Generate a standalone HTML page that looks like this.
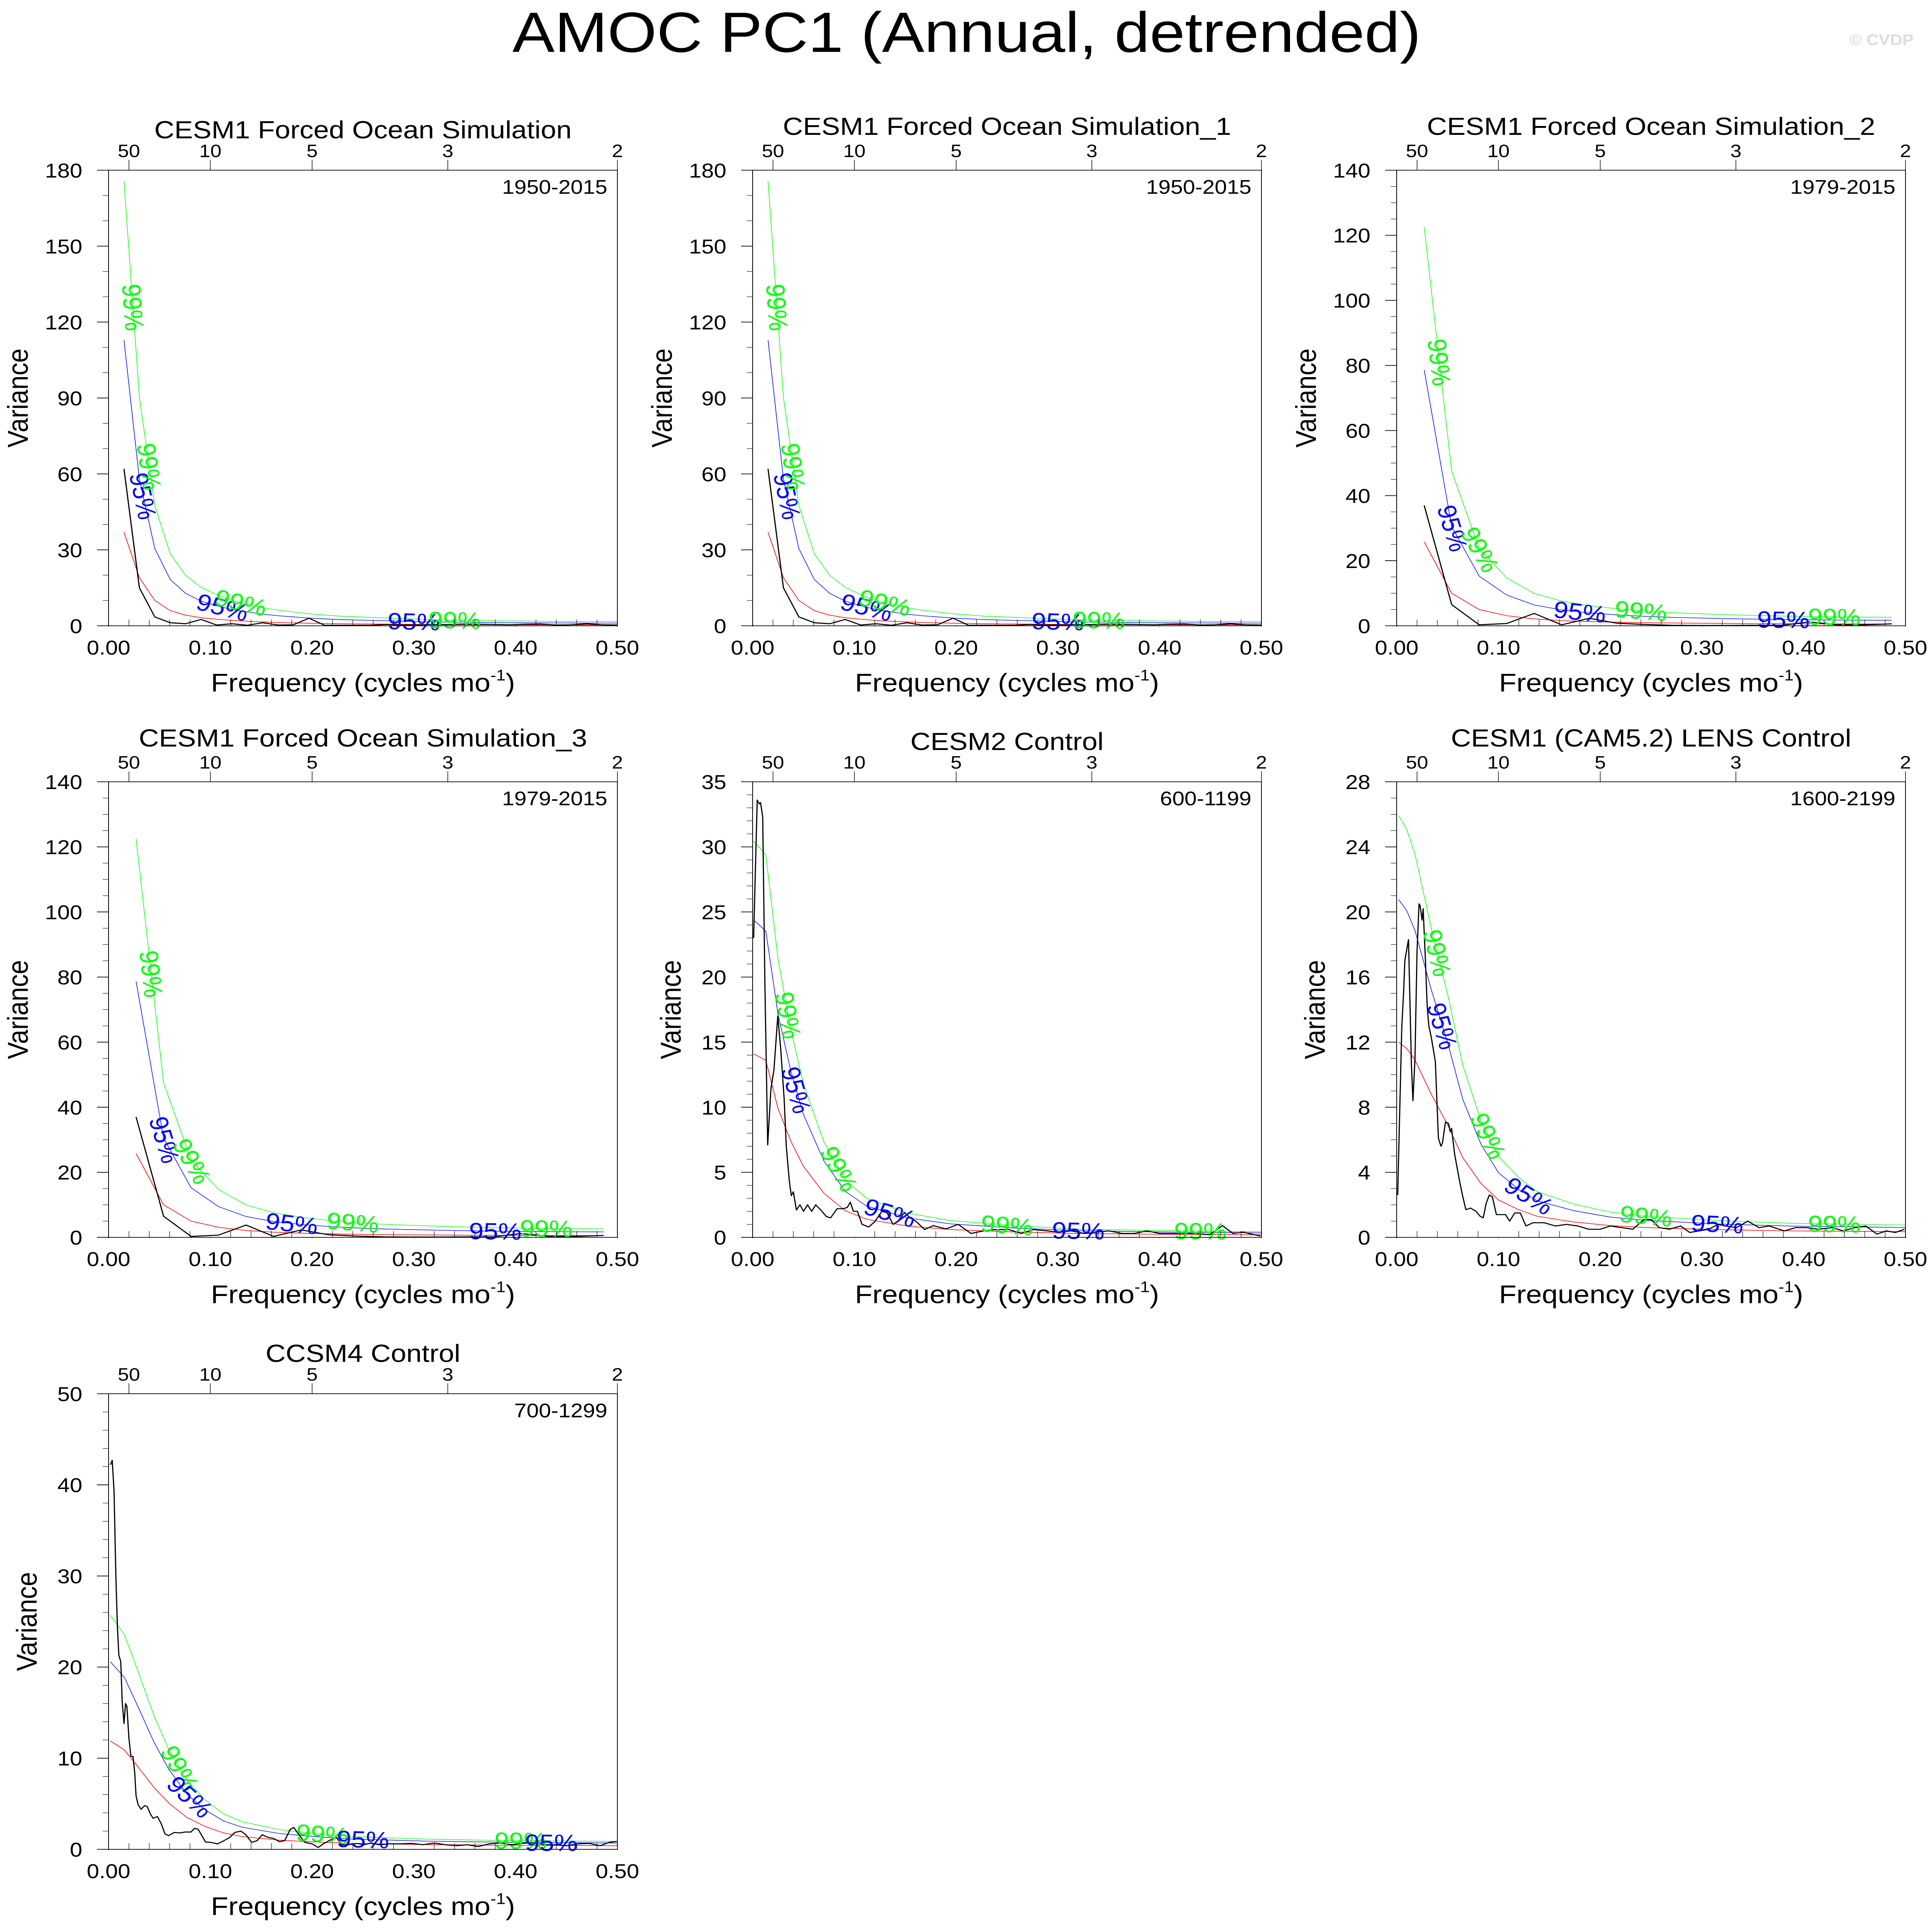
<!DOCTYPE html>
<html><head><meta charset="utf-8"><title>AMOC PC1 (Annual, detrended)</title>
<style>html,body{margin:0;padding:0;background:#fff;width:100vw;height:100vh;overflow:hidden;}svg{display:block;width:100vw;height:100vh;font-family:"Liberation Sans",Arial,sans-serif;}</style>
</head><body>
<svg id="fig" xmlns="http://www.w3.org/2000/svg" viewBox="0 0 4998 5585" preserveAspectRatio="none">
<rect width="4998" height="5585" fill="#fff"/>
<text x="2502" y="150" font-size="164" text-anchor="middle" fill="#000">AMOC PC1 (Annual, detrended)</text>
<text x="4953" y="130" font-size="44" font-weight="bold" text-anchor="end" fill="#dddddd">© CVDP</text>
</svg>
<script>
// ---- data: 66-year forced runs (1950-2015) ----
const fA = [1,2,3,4,5,6,7,8,9,10,11,12,13,14,15,16,17,18,19,20,21,22,23,24,25,26,27,28,29,30,31,32,33].map(k=>k/66);
const specA = [62,15,3.5,1.2,0.8,2.5,0.3,0.8,0.2,1.2,0.3,0.4,3.0,0.2,0.2,0.2,0.2,0.5,0.3,0.3,0.5,0.5,0.7,0.6,0.5,0.4,0.6,0.7,0.3,0.4,0.8,0.4,0.3];
const redA = [37,19,10,6,4.2,3.2,2.6,2.1,1.8,1.5,1.3,1.15,1.0,0.9,0.8,0.75,0.7,0.65,0.6,0.55,0.5,0.48,0.46,0.44,0.42,0.4,0.39,0.38,0.37,0.36,0.35,0.35,0.35];
// ---- data: 37-year forced runs (1979-2015) ----
const fB = [1,2,3,4,5,6,7,8,9,10,11,12,13,14,15,16,17,18].map(k=>k/37);
const specB = [37,6.5,0.3,0.7,3.8,0.3,2.3,0.8,0.4,0.15,0.1,0.1,0.15,0.15,1.2,0.3,0.3,0.6];
const redB = [25.8,10,5,3.1,2.1,1.6,1.3,1.1,0.95,0.85,0.78,0.72,0.67,0.63,0.6,0.58,0.56,0.55];
// ---- CESM2 Control ----
const fC = [0.001,0.0045,0.0066,0.0078,0.0099,0.012,0.0148,0.018,0.021,0.0247,0.0276,0.031,0.033,0.036,0.038,0.040,0.043,0.0465,0.05,0.054,0.058,0.062,0.067,0.0725,0.0766,0.083,0.089,0.093,0.096,0.099,0.103,0.1075,0.114,0.12,0.127,0.132,0.138,0.1425,0.149,0.155,0.161,0.169,0.1775,0.19,0.202,0.2146,0.227,0.239,0.2517,0.264,0.276,0.289,0.301,0.313,0.326,0.338,0.35,0.363,0.375,0.3875,0.4,0.412,0.425,0.437,0.449,0.4617,0.472,0.482,0.499];
const specC = [23,33.6,33.3,33.4,32.3,19.8,7.1,11.4,12.9,17,14.5,10.6,7.1,4.4,3.2,3.5,2.1,2.5,2.0,2.5,2.0,2.5,2.1,1.6,1.5,2.2,2.2,2.3,2.7,2.0,2.0,1.0,0.8,1.2,2.0,1.9,1.0,1.2,1.9,1.5,1.2,0.6,0.9,0.65,1.0,0.3,0.5,0.6,0.6,0.3,0.6,0.5,0.4,0.5,0.3,0.4,0.5,0.3,0.3,0.5,0.3,0.3,0.3,0.3,0.2,0.9,0.3,0.4,0.1];
const fCr = [0.001,0.013,0.025,0.0375,0.05,0.07,0.091,0.1116,0.153,0.194,0.256,0.3175,0.4,0.5];
const redC = [14.1,13.6,9.9,7.4,5.45,3.4,2.05,1.4,0.86,0.6,0.42,0.3,0.24,0.2];
// ---- CESM1 LENS Control ----
const fD = [0.001,0.005,0.007,0.008,0.0116,0.0145,0.016,0.018,0.02,0.022,0.023,0.025,0.026,0.028,0.030,0.0316,0.034,0.038,0.041,0.0435,0.045,0.048,0.051,0.0526,0.054,0.057,0.062,0.065,0.068,0.0726,0.078,0.082,0.085,0.088,0.091,0.094,0.098,0.1016,0.107,0.111,0.116,0.1215,0.127,0.134,0.145,0.156,0.167,0.178,0.189,0.2,0.21,0.221,0.232,0.243,0.25,0.258,0.268,0.279,0.288,0.2975,0.3066,0.316,0.323,0.334,0.345,0.356,0.366,0.381,0.392,0.403,0.414,0.428,0.439,0.45,0.461,0.472,0.481,0.49,0.499];
const specD = [2.6,12.9,15.3,17,18.3,10.6,8.4,11,17.6,20.5,20.4,19.5,20.2,17.4,14.2,13,12.3,10.8,6.1,5.6,5.8,7.1,7.0,6.5,6.7,5.1,3.4,2.5,1.7,1.8,1.6,1.3,1.2,2.1,2.6,2.5,1.4,1.4,1.4,1.0,1.5,1.5,0.7,0.9,0.9,0.7,0.8,0.7,0.5,0.5,0.7,0.6,0.5,1.1,1.1,0.6,0.5,0.7,0.3,0.4,0.5,0.8,0.7,0.6,1.0,0.6,0.7,0.4,0.6,0.6,0.5,0.6,0.4,0.6,0.7,0.2,0.4,0.3,0.5];
const fDr = [0.002,0.01,0.018,0.034,0.051,0.065,0.083,0.1,0.12,0.138,0.174,0.21,0.247,0.32,0.39,0.5];
const redD = [12,11.6,10.9,8.8,6.8,4.9,3.3,2.3,1.7,1.3,0.95,0.72,0.6,0.47,0.4,0.35];
// ---- CCSM4 Control ----
const fE = [0.0018,0.0036,0.0054,0.0072,0.0087,0.0101,0.012,0.0134,0.0152,0.0167,0.018,0.02,0.022,0.024,0.0257,0.027,0.029,0.032,0.0355,0.038,0.041,0.0438,0.048,0.0518,0.0554,0.059,0.0645,0.07,0.075,0.081,0.0844,0.088,0.0917,0.0953,0.1007,0.107,0.1134,0.119,0.124,0.13,0.135,0.1406,0.146,0.151,0.157,0.162,0.168,0.173,0.1786,0.182,0.1877,0.193,0.2,0.206,0.211,0.2185,0.224,0.229,0.2366,0.244,0.251,0.258,0.2656,0.2764,0.287,0.298,0.309,0.32,0.331,0.3417,0.3525,0.363,0.374,0.385,0.396,0.407,0.418,0.4286,0.4395,0.45,0.461,0.472,0.483,0.492,0.4993];
const specE = [42.2,42.7,39.3,29.8,24.4,21.3,20.6,16.2,13.8,16,15.7,12.2,10.2,10.2,8.4,5.9,4.9,4.4,4.8,4.7,3.9,3.4,3.6,2.8,1.7,1.5,1.85,1.8,1.9,1.9,2.3,2.2,1.5,0.8,0.76,0.6,0.95,1.3,1.85,2.0,1.6,0.76,0.95,1.6,1.3,1.2,0.84,0.95,2.2,2.4,1.5,0.76,0.6,0.2,0.6,1.05,1.3,0.5,0.5,0.65,0.5,0.7,0.5,0.6,0.6,0.65,0.5,0.7,0.5,0.4,0.5,0.3,0.6,0.7,0.5,0.65,0.76,0.5,0.5,0.4,0.6,0.65,0.4,0.76,0.87];
const fEr = [0.0018,0.0156,0.03,0.0446,0.059,0.077,0.095,0.113,0.1315,0.168,0.204,0.24,0.3127,0.385,0.5];
const redE = [11.9,10.9,8.9,6.8,5.1,3.5,2.5,1.8,1.4,1.0,0.8,0.65,0.52,0.45,0.4];
// ---- confidence multipliers (95%, 99%) ----
const ciShort = [3.05, 4.75];
const ciLong = [1.73, 2.16];
// ---- x-axis ticks ----
const xMajor = [0,0.1,0.2,0.3,0.4,0.5];
const periodTicks = [50,10,5,3,2];

const panels = [
 {name:'cesm1-forced-ocean', title:'CESM1 Forced Ocean Simulation', yrs:'1950-2015', col:0,row:0, ymax:180,maj:30,mn:10, f:fA,s:specA,fr:fA,r:redA,ci:ciShort, tdy:0,
  labels:[['g',0.024],['b',0.034],['g',0.040],['b',0.112],['g',0.13],['b',0.30],['g',0.34]]},
 {name:'cesm1-forced-ocean-1', title:'CESM1 Forced Ocean Simulation_1', yrs:'1950-2015', col:1,row:0, ymax:180,maj:30,mn:10, f:fA,s:specA,fr:fA,r:redA,ci:ciShort, tdy:-10,
  labels:[['g',0.024],['b',0.034],['g',0.040],['b',0.112],['g',0.13],['b',0.30],['g',0.34]]},
 {name:'cesm1-forced-ocean-2', title:'CESM1 Forced Ocean Simulation_2', yrs:'1979-2015', col:2,row:0, ymax:140,maj:20,mn:5, f:fB,s:specB,fr:fB,r:redB,ci:ciShort, tdy:-10,
  labels:[['g',0.042],['b',0.055],['g',0.082],['b',0.18],['g',0.24],['b',0.38],['g',0.43]]},
 {name:'cesm1-forced-ocean-3', title:'CESM1 Forced Ocean Simulation_3', yrs:'1979-2015', col:0,row:1, ymax:140,maj:20,mn:5, f:fB,s:specB,fr:fB,r:redB,ci:ciShort, tdy:-10,
  labels:[['g',0.042],['b',0.055],['g',0.082],['b',0.18],['g',0.24],['b',0.38],['g',0.43]]},
 {name:'cesm2-control', title:'CESM2 Control', yrs:'600-1199', col:1,row:1, ymax:35,maj:5,mn:1, f:fC,s:specC,fr:fCr,r:redC,ci:ciLong, tdy:0,
  labels:[['g',0.035],['b',0.043],['g',0.085],['b',0.135],['g',0.25],['b',0.32],['g',0.44]]},
 {name:'cesm1-lens-control', title:'CESM1 (CAM5.2) LENS Control', yrs:'1600-2199', col:2,row:1, ymax:28,maj:4,mn:1, f:fD,s:specD,fr:fDr,r:redD,ci:ciLong, tdy:-10,
  labels:[['g',0.04],['b',0.045],['g',0.09],['b',0.13],['g',0.245],['b',0.315],['g',0.43]]},
 {name:'ccsm4-control', title:'CCSM4 Control', yrs:'700-1299', col:0,row:2, ymax:50,maj:10,mn:2, f:fE,s:specE,fr:fEr,r:redE,ci:ciLong, tdy:0,
  labels:[['g',0.07],['b',0.08],['g',0.21],['b',0.25],['g',0.405],['b',0.435]]}
];

const NS='http://www.w3.org/2000/svg';
const svg=document.getElementById('fig');
const colL=[281,1948,3615], rowT=[492,2260,4029], W=1317, H=1317;
function mk(tag,attrs,parent){const e=document.createElementNS(NS,tag);for(const k in attrs)e.setAttribute(k,attrs[k]);(parent||svg).appendChild(e);return e;}

function interp(fs,vs,f){
  if(f<=fs[0])return vs[0];
  for(let i=1;i<fs.length;i++){if(f<=fs[i]){const t=(f-fs[i-1])/(fs[i]-fs[i-1]);return vs[i-1]+t*(vs[i]-vs[i-1]);}}
  return vs[vs.length-1];
}

panels.forEach(p=>{
  const L=colL[p.col], T=rowT[p.row], B=T+H, R=L+W;
  const X=f=>L+f/0.5*W;
  const Y=v=>B-v/p.ymax*H;
  const g=mk('g',{});
  
  
  const t=mk('text',{x:(L+R)/2,y:T-92+p.tdy,'font-size':72,'text-anchor':'middle'},g);
  
  
  t.textContent=p.title;
  const redPts=p.fr.map((f,i)=>X(f).toFixed(1)+','+Y(p.r[i]).toFixed(1)).join(' ');
  const bluePts=p.fr.map((f,i)=>X(f).toFixed(1)+','+Y(p.r[i]*p.ci[0]).toFixed(1)).join(' ');
  const greenPts=p.fr.map((f,i)=>X(f).toFixed(1)+','+Y(p.r[i]*p.ci[1]).toFixed(1)).join(' ');
  const cg=mk('polyline',{points:greenPts,fill:'none',stroke:'#00ff00','stroke-width':1.6},g);
  
  
  const cb=mk('polyline',{points:bluePts,fill:'none',stroke:'#0000ff','stroke-width':1.6},g);
  
  
  const cr=mk('polyline',{points:redPts,fill:'none',stroke:'#ff0000','stroke-width':1.8},g);
  
  
  const sp=mk('polyline',{points:p.f.map((f,i)=>X(f).toFixed(1)+','+Y(p.s[i]).toFixed(1)).join(' '),fill:'none',stroke:'#000','stroke-width':3,'stroke-linejoin':'round'},g);
  
  
  p.labels.forEach(([c,f])=>{
    const fac=c==='g'?p.ci[1]:p.ci[0];
    const v=interp(p.fr,p.r,f)*fac;
    const df=0.004;
    const x1=X(f-df),y1=Y(interp(p.fr,p.r,f-df)*fac),x2=X(f+df),y2=Y(interp(p.fr,p.r,f+df)*fac);
    const ang=Math.atan2(y2-y1,x2-x1)*180/Math.PI;
    const lx=X(f),ly=Y(v);
    const lt=mk('text',{x:lx,y:ly+24,'font-size':68,'text-anchor':'middle',fill:c==='g'?'#00ff00':'#0000ff',transform:`rotate(${ang.toFixed(1)} ${lx.toFixed(1)} ${ly.toFixed(1)})`},g);
    
    
    lt.textContent=c==='g'?'99%':'95%';
  });
  const fr=mk('rect',{x:L,y:T,width:W,height:H,fill:'none',stroke:'#000','stroke-width':2},g);
  
  
  for(let v=0;v<=p.ymax+1e-9;v+=p.mn){
    const isMaj=Math.abs(v/p.maj-Math.round(v/p.maj))<1e-6;
    mk('line',{x1:L-(isMaj?30:15),x2:L,y1:Y(v),y2:Y(v),stroke:'#000','stroke-width':isMaj?2:1.2},g);
    if(isMaj){
      const yl=mk('text',{x:L-68,y:Y(v)+21,'font-size':58,'text-anchor':'end'},g);
      
      
      yl.textContent=String(Math.round(v));
    }
  }
  for(let k=0;k<=25;k++){
    const f=k*0.02;
    mk('line',{x1:X(f),x2:X(f),y1:B,y2:B-(k%5===0?0:18),stroke:'#000','stroke-width':1.2},g);
  }
  xMajor.forEach(f=>{
    mk('line',{x1:X(f),x2:X(f),y1:B,y2:B+2,stroke:'#000','stroke-width':2},g);
    const xl=mk('text',{x:X(f),y:B+83,'font-size':58,'text-anchor':'middle'},g);
    
    
    xl.textContent=f.toFixed(2);
  });
  periodTicks.forEach(per=>{
    const f=1/per;
    mk('line',{x1:X(f),x2:X(f),y1:T,y2:T-30,stroke:'#000','stroke-width':1.5},g);
    const pl=mk('text',{x:X(f),y:T-38,'font-size':52,'text-anchor':'middle'},g);
    
    
    pl.textContent=String(per);
  });
  const yr=mk('text',{x:R-26,y:T+68,'font-size':57,'text-anchor':'end'},g);
  
  
  yr.textContent=p.yrs;
  const yoff=p.ymax>=100?235:212;
  const yt=mk('text',{x:L-yoff,y:(T+B)/2,'font-size':74,'text-anchor':'middle',transform:`rotate(-90 ${L-yoff} ${(T+B)/2})`,dy:'0.35em'},g);
  
  
  yt.textContent='Variance';
  const xt=mk('text',{x:(L+R)/2,y:B+190,'font-size':74,'text-anchor':'middle'},g);
  
  
  xt.textContent='Frequency (cycles mo';
  const sup=mk('tspan',{'font-size':44,dy:-32},xt);
  sup.textContent='-1';
  const cl=mk('tspan',{dy:32},xt);
  cl.textContent=')';
});
</script>
</body></html>
